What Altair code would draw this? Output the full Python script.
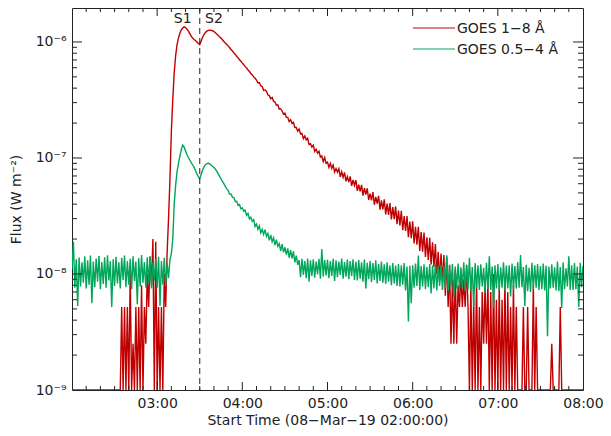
import altair as alt
import pandas as pd

# ---------------- data (one sample per minute after 02:00:00 UT) ----------------
# GOES 1-8 Å flux, in units of 1e-9 W m^-2 (values at/below 1e-9 sit on the floor)
red_flux = [
    1, 1, 1, 1, 1, 1, 1, 1, 1, 1,
    1, 1, 1, 1, 1, 1, 1, 1, 1, 1,
    1, 1, 1, 1, 1, 1, 1, 1, 1, 1,
    1, 1, 1, 1, 1, 5.2, 1, 5.2, 1, 5.2,
    1, 10, 1, 2.5, 1, 5.2, 1, 5.2, 1, 8,
    1, 5.2, 2.5, 10, 5.2, 14, 8, 20, 1, 19,
    1, 5.2, 1, 5.2, 1, 10, 5.2, 15, 30, 65,
    170, 320, 540, 760, 950, 1080, 1190, 1270, 1320, 1350,
    1330, 1290, 1240, 1180, 1120, 1080, 1050, 1030, 1000, 970,
    950, 1020, 1100, 1160, 1210, 1240, 1260, 1265, 1260, 1250,
    1230, 1200, 1170, 1140, 1105, 1080, 1045, 1010, 980, 955,
    925, 896, 862, 836, 805, 781, 752, 730, 703, 682,
    657, 637, 613, 596, 574, 557, 535, 520, 500, 486,
    469, 444, 447, 419, 413, 383, 386, 376, 350, 345,
    324, 332, 309, 304, 285, 287, 264, 266, 254, 239,
    244, 224, 224, 206, 214, 199, 203, 183, 183, 170,
    178, 161, 163, 147, 155, 143, 148, 131, 133, 124,
    129, 114, 119, 110, 114, 102, 104, 93, 101, 90,
    92, 83, 90, 81.5, 87, 75.7, 81, 75.6, 80.8, 68.7,
    76, 68, 75, 63, 69, 62, 69.4, 57.4, 64.8, 58,
    64.4, 52.1, 58.9, 51.6, 58.6, 47.3, 55.1, 48.4, 54.8, 43.5,
    49.2, 43.1, 50.8, 39.5, 46.1, 40.5, 47.1, 35.9, 43.1, 36,
    44, 32.6, 40.4, 32.3, 40.8, 29.6, 37.7, 29.7, 38.1, 26.9,
    35.3, 26.2, 35, 23.8, 31.6, 23.5, 31.6, 20.8, 28.3, 20.4,
    28.5, 18.3, 25.5, 17.9, 25.5, 15.8, 23, 15.6, 22.8, 14,
    20.7, 13.2, 20.5, 12.1, 18.8, 11.5, 18.1, 10, 15.5, 8.8,
    15, 8.4, 14.6, 6.5, 14, 5.2, 12, 2.5, 9, 2.5,
    11, 2.5, 8, 5.2, 10, 5.2, 9, 5.2, 12, 5.2,
    1, 8, 1, 6, 1, 9, 1, 5.2, 1, 7,
    2.5, 8, 2.5, 9, 1, 7, 1, 10, 1, 6,
    1, 8, 1, 6, 1, 9, 1, 7, 1, 5.2,
    1, 8, 1, 5.2, 1, 1, 1, 1, 5.2, 1,
    1, 5.2, 1, 1, 1, 8, 1, 5.2, 1, 1,
    1, 1, 1, 1, 1, 1, 1, 1, 2.5, 1,
    1, 1, 1, 1, 5.2, 1, 1, 1, 1, 1,
    1, 1, 1, 1, 1, 1, 1, 1, 1, 1,
    1,
]

# GOES 0.5-4 Å flux, in units of 1e-9 W m^-2
green_flux = [
    11, 19, 7.6, 13.4, 5.3, 13.9, 7.8, 12.6, 8.4, 14.2,
    7.5, 13.1, 8.1, 14.4, 5.6, 12.8, 7.7, 13.6, 8.6, 14.3,
    7.4, 12.7, 8.2, 13.9, 7.6, 14.5, 8.8, 12.9, 5.2, 13.4,
    7.9, 14.1, 8.3, 12.6, 7.5, 13.8, 8.9, 14.4, 7.7, 12.9,
    8.1, 13.5, 7.4, 14.2, 8.7, 12.8, 5.5, 13.7, 7.8, 14.6,
    8.4, 12.7, 7.6, 13.9, 8.2, 14.3, 7.5, 12.6, 8.8, 13.6,
    7.6, 14.1, 5.3, 12.9, 8.1, 13.8, 7.9, 12.5, 9.2, 13.3,
    15, 20, 40, 58, 76, 90, 104, 118, 129, 124,
    115, 107, 101, 96, 91, 87, 83, 78, 73, 69,
    66, 72, 79, 84, 87.5, 89.5, 90, 89, 87, 85,
    83, 80, 77, 73, 69.5, 66, 63, 60, 57, 54.5,
    52.5, 49, 49, 46, 45.5, 42.1, 42.3, 39.1, 39.7, 36.4,
    37.2, 34.8, 35.5, 32, 33.3, 29.8, 30.9, 28.4, 29.4, 25.7,
    27, 24.3, 26, 22.6, 24.2, 21.9, 24.1, 21.1, 22.4, 19.5,
    21.7, 19, 20.5, 17.7, 19.8, 17.3, 18.3, 15.8, 18.1, 15.4,
    17, 14.7, 16.6, 13.8, 16.1, 13.6, 15.7, 12.6, 14.4, 12,
    13.2, 9.4, 13.5, 9.8, 12.9, 9.2, 13.6, 8.6, 13.1, 9.6,
    13.4, 9.3, 12.8, 9.9, 13.5, 9.1, 16.4, 9.5, 13.2, 9.7,
    13.3, 9.2, 12.9, 9.6, 13.5, 8.7, 13.1, 9.4, 12.8, 9.8,
    13.6, 9.1, 12.7, 9.5, 13.3, 9.0, 12.9, 9.6, 13.4, 8.9,
    12.8, 8.8, 13.2, 9.1, 12.6, 8.6, 13.3, 7.5, 12.5, 9.0,
    12.9, 8.5, 12.4, 8.9, 13.1, 8.3, 12.2, 8.7, 12.8, 8.4,
    12.1, 8.2, 12.6, 8.6, 11.9, 8.0, 12.4, 8.3, 11.8, 7.9,
    12.2, 7.8, 11.9, 8.1, 12.4, 7.2, 11.6, 3.9, 11.8, 5.6,
    11.9, 7.6, 12.3, 7.9, 14.4, 7.3, 11.7, 7.8, 12.1, 7.4,
    11.5, 7.7, 12.2, 6.8, 11.8, 7.5, 12.4, 7.2, 11.6, 7.9,
    12, 7.3, 11.7, 7.6, 14.5, 7.1, 11.9, 7.8, 12.2, 6.3,
    11.6, 7.5, 12.3, 7.2, 11.4, 7.7, 12.6, 7.1, 11.8, 7.4,
    13.8, 7.2, 11.5, 5.2, 12.4, 7.6, 11.9, 7.3, 12.1, 7.8,
    11.3, 6.9, 12.5, 7.4, 14.2, 7.3, 11.6, 5.1, 11.9, 7.5,
    12.2, 7.2, 11.4, 7.6, 12.6, 7.2, 11.8, 7.5, 11.9, 6.4,
    12.3, 7.3, 11.7, 7.5, 12.7, 7.6, 14.6, 7.7, 11.5, 5.3,
    12, 7.1, 11.3, 7, 12.5, 7.4, 11.9, 7.6, 12.2, 7.3,
    11.7, 7.4, 12.3, 7.2, 11.8, 2.9, 11.6, 7.5, 12.1, 7.6,
    11.4, 7.2, 12.8, 7.1, 11.5, 5.1, 12.6, 7.4, 11.2, 7.8,
    14.2, 7.3, 11.9, 7.3, 12.4, 7.4, 11.6, 5.2, 12.5, 7.7,
    11.8,
]

series_names = ["GOES 1\u22128 \u00c5", "GOES 0.5\u22124 \u00c5"]
series_colors = ["#C00000", "#00A65A"]

event_labels = ["S1", "S2"]
event_minutes = [78, 100]          # label positions (minutes after 02:00)
divider_minute = [90]              # 03:30 dashed line

x_label_minutes = [60, 120, 180, 240, 300, 360]
y_decades = [1e-9, 1e-8, 1e-7, 1e-6]

# ---------------- build ----------------
UNIT = 1e-9
W, H = 511, 382
FONT = "DejaVu Sans"
TXT = "#222222"
LW = 1.4

red_df = pd.DataFrame({"t": list(range(len(red_flux))), "flux": [v * UNIT for v in red_flux]})
green_df = pd.DataFrame({"t": list(range(len(green_flux))), "flux": [v * UNIT for v in green_flux]})

xs = alt.Scale(domain=[0, 360], nice=False, zero=False)
ys = alt.Scale(type="log", domain=[1e-9, 1.963e-6], nice=False)

x_axis = alt.Axis(
    values=x_label_minutes,
    labelExpr="(floor(datum.value/60)+2 < 10 ? '0' : '') + (floor(datum.value/60)+2) + ':00'",
    ticks=False, domain=False, grid=False, labelFlush=False,
    labelPadding=6, labelFont=FONT, labelFontSize=14, labelColor=TXT,
    title="Start Time (08\u2212Mar\u221219 02:00:00)", titleFont=FONT, titleFontSize=14,
    titleFontWeight="normal", titleColor=TXT, titlePadding=3,
)
y_axis = alt.Axis(
    values=y_decades,
    labelExpr="'10' + (datum.value < 3e-9 ? '\u207b\u2079' : datum.value < 3e-8 ? '\u207b\u2078' : datum.value < 3e-7 ? '\u207b\u2077' : '\u207b\u2076')",
    ticks=False, domain=False, grid=False, labelFlush=False,
    labelPadding=6, labelFont=FONT, labelFontSize=14, labelColor=TXT,
    title="Flux (W m\u207b\u00b2)", titleFont=FONT, titleFontSize=14,
    titleFontWeight="normal", titleColor=TXT, titlePadding=12,
)

def X(field="t"):
    return alt.X(f"{field}:Q", scale=xs, axis=x_axis)

def Y(field="flux"):
    return alt.Y(f"{field}:Q", scale=ys, axis=y_axis)

red_line = alt.Chart(red_df).mark_line(color=series_colors[0], strokeWidth=LW, clip=True).encode(
    x=X(), y=Y()
)
green_line = alt.Chart(green_df).mark_line(color=series_colors[1], strokeWidth=LW, clip=True).encode(
    x=X(), y=Y()
)

divider = alt.Chart(pd.DataFrame({"t": divider_minute})).mark_rule(
    color=TXT, strokeWidth=1, strokeDash=[6, 4]
).encode(x=X())

events = alt.Chart(pd.DataFrame({"t": event_minutes, "label": event_labels})).mark_text(
    font=FONT, fontSize=14, color=TXT, align="center", baseline="middle"
).encode(x=X(), y=alt.value(10.5), text="label:N")

# frame ticks (pointing inward on all four sides)
x_minor = [m for m in range(10, 360, 10) if m % 60]
x_major = [m for m in range(60, 360, 60)]
y_minor = [k * 10.0 ** e for e in (-9, -8, -7) for k in range(2, 10)]
y_major = [1e-8, 1e-7, 1e-6]

def xticks(vals, length):
    base = alt.Chart(pd.DataFrame({"t": vals})).mark_rule(color=TXT, strokeWidth=1)
    return [
        base.encode(x=X(), y=alt.value(H), y2=alt.value(H - length)),
        base.encode(x=X(), y=alt.value(0), y2=alt.value(length)),
    ]

def yticks(vals, length):
    base = alt.Chart(pd.DataFrame({"flux": vals})).mark_rule(color=TXT, strokeWidth=1)
    return [
        base.encode(y=Y(), x=alt.value(0), x2=alt.value(length)),
        base.encode(y=Y(), x=alt.value(W), x2=alt.value(W - length)),
    ]

tick_layers = xticks(x_minor, 4) + xticks(x_major, 8) + yticks(y_minor, 5) + yticks(y_major, 10)

# legend (top right, inside the frame)
legend_layers = []
for i, (name, col) in enumerate(zip(series_names, series_colors)):
    yy = 20 + 21 * i
    one = alt.Chart(pd.DataFrame({"k": [0]}))
    legend_layers.append(
        one.mark_rule(color=col, strokeWidth=1).encode(
            x=alt.value(341), x2=alt.value(383), y=alt.value(yy)
        )
    )
    legend_layers.append(
        one.mark_text(font=FONT, fontSize=14, color=TXT, align="left", baseline="middle", text=name).encode(
            x=alt.value(385), y=alt.value(yy + 1)
        )
    )

chart = alt.layer(
    red_line, green_line, divider, events, *tick_layers, *legend_layers
).properties(
    width=W, height=H,
    autosize=alt.AutoSizeParams(type="none"),
    padding={"left": 64, "top": 0, "right": 20, "bottom": 38},
    background="white",
).configure_view(stroke=TXT, strokeWidth=1)

chart.save("out.html", embed_options={"renderer": "svg", "actions": False})
